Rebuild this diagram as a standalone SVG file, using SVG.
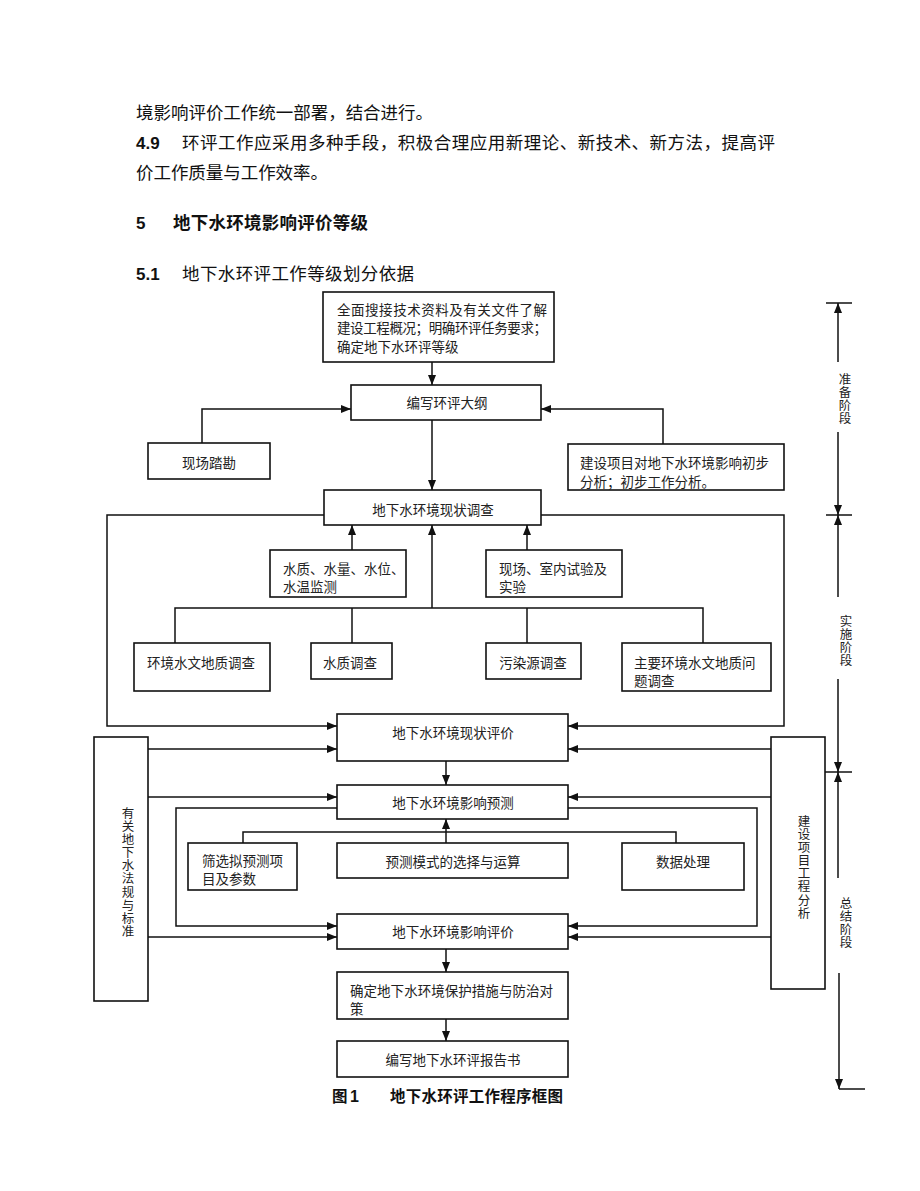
<svg xmlns="http://www.w3.org/2000/svg" width="920" height="1191" viewBox="0 0 920 1191">
<style>
.p{font-family:"Noto Sans CJK SC","Liberation Serif",sans-serif;font-size:17.5px;fill:#111}
.n{font-family:"Liberation Sans",sans-serif;font-size:17px;font-weight:bold;fill:#111}
.h{font-family:"Noto Sans CJK SC",sans-serif;font-size:17.5px;font-weight:bold;fill:#111}
.t{font-family:"Noto Sans CJK SC",sans-serif;font-size:13.5px;fill:#222}
.c{text-anchor:middle}
.v{font-family:"Noto Sans CJK SC",sans-serif;font-size:12.5px;fill:#222;writing-mode:vertical-rl;letter-spacing:0.6px}
.box{fill:#fff;stroke:#111;stroke-width:1.6}
.ln{fill:none;stroke:#111;stroke-width:1.5}
.cap{font-family:"Noto Sans CJK SC",sans-serif;font-size:15.5px;font-weight:bold;fill:#111}
</style>
<defs>
<marker id="ah" markerWidth="10" markerHeight="8" refX="10" refY="4" orient="auto" markerUnits="userSpaceOnUse"><path d="M0,0 L10,4 L0,8 z" fill="#111"/></marker>
</defs>
<rect width="920" height="1191" fill="#fff"/>

<g id="paragraphs">
<text class="p" x="136" y="118.5" textLength="297" lengthAdjust="spacing">境影响评价工作统一部署，结合进行。</text>
<text class="n" x="136" y="148.5">4.9</text>
<text class="p" x="182" y="148.5" textLength="593" lengthAdjust="spacing">环评工作应采用多种手段，积极合理应用新理论、新技术、新方法，提高评</text>
<text class="p" x="136" y="178.5" textLength="192" lengthAdjust="spacing">价工作质量与工作效率。</text>
<text class="n" x="136" y="228.5">5</text>
<text class="h" x="173" y="228.5" textLength="195" lengthAdjust="spacing">地下水环境影响评价等级</text>
<text class="n" x="136" y="279.5">5.1</text>
<text class="p" x="182" y="279.5" textLength="232" lengthAdjust="spacing">地下水环评工作等级划分依据</text>
</g>

<g id="connectors">
<path class="ln" d="M432,362 V385" marker-end="url(#ah)"/>
<path class="ln" d="M202,443 V409 H351" marker-end="url(#ah)"/>
<path class="ln" d="M663,444 V409 H541" marker-end="url(#ah)"/>
<path class="ln" d="M432,420 V490" marker-end="url(#ah)"/>
<path class="ln" d="M352,550 V525" marker-end="url(#ah)"/>
<path class="ln" d="M432,608 V525" marker-end="url(#ah)"/>
<path class="ln" d="M527,550 V525" marker-end="url(#ah)"/>
<path class="ln" d="M175,643 V608 H703 V643"/>
<path class="ln" d="M352,608 V643"/>
<path class="ln" d="M527,608 V643"/>
<path class="ln" d="M324,515 H107 V726 H337" marker-end="url(#ah)"/>
<path class="ln" d="M541,515 H784 V726 H568" marker-end="url(#ah)"/>
<path class="ln" d="M148,749 H337" marker-end="url(#ah)"/>
<path class="ln" d="M771,749 H568" marker-end="url(#ah)"/>
<path class="ln" d="M446,761 V785" marker-end="url(#ah)"/>
<path class="ln" d="M148,797 H337" marker-end="url(#ah)"/>
<path class="ln" d="M771,797 H568" marker-end="url(#ah)"/>
<path class="ln" d="M337,808 H176 V926 H337" marker-end="url(#ah)"/>
<path class="ln" d="M568,808 H757 V926 H568" marker-end="url(#ah)"/>
<path class="ln" d="M243,843 V832 H676 V843"/>
<path class="ln" d="M446,843 V819" marker-end="url(#ah)"/>
<path class="ln" d="M148,937 H337" marker-end="url(#ah)"/>
<path class="ln" d="M771,937 H568" marker-end="url(#ah)"/>
<path class="ln" d="M446,949 V972" marker-end="url(#ah)"/>
<path class="ln" d="M446,1019 V1041" marker-end="url(#ah)"/>
</g>

<g id="stages">
<path class="ln" d="M826,303 H852"/>
<path class="ln" d="M838,362 V303" marker-end="url(#ah)"/>
<path class="ln" d="M838,432 V515" marker-end="url(#ah)"/>
<path class="ln" d="M826,515 H852"/>
<path class="ln" d="M838,597 V515" marker-end="url(#ah)"/>
<path class="ln" d="M838,679 V772" marker-end="url(#ah)"/>
<path class="ln" d="M825,772 H852"/>
<path class="ln" d="M838,878 V772" marker-end="url(#ah)"/>
<path class="ln" d="M839,973 V1089" marker-end="url(#ah)"/>
<path class="ln" d="M839,1089 H865"/>
<text class="v" x="845" y="373">准备阶段</text>
<text class="v" x="846" y="615">实施阶段</text>
<text class="v" x="846" y="897">总结阶段</text>
</g>

<g id="n1"><rect class="box" x="323" y="292" width="231" height="70"/>
<text class="t"><tspan x="337" y="315" textLength="210" lengthAdjust="spacing">全面搜接技术资料及有关文件了解</tspan><tspan x="337" y="333" textLength="210" lengthAdjust="spacing">建设工程概况；明确环评任务要求；</tspan><tspan x="337" y="352">确定地下水环评等级</tspan></text></g>

<g id="n2"><rect class="box" x="351" y="385" width="190" height="35"/>
<text class="t c" x="447" y="408">编写环评大纲</text></g>

<g id="n3"><rect class="box" x="148" y="443" width="122" height="36"/>
<text class="t c" x="209" y="468">现场踏勘</text></g>

<g id="n4"><rect class="box" x="568" y="444" width="216" height="46"/>
<text class="t"><tspan x="580" y="468" textLength="189" lengthAdjust="spacing">建设项目对地下水环境影响初步</tspan><tspan x="580" y="487">分析；初步工作分析。</tspan></text></g>

<g id="n5"><rect class="box" x="324" y="490" width="217" height="35"/>
<text class="t c" x="433" y="515">地下水环境现状调查</text></g>

<g id="n6"><rect class="box" x="270" y="550" width="136" height="47"/>
<text class="t"><tspan x="283" y="574">水质、水量、水位、</tspan><tspan x="283" y="592">水温监测</tspan></text></g>

<g id="n7"><rect class="box" x="486" y="550" width="136" height="47"/>
<text class="t"><tspan x="499" y="574">现场、室内试验及</tspan><tspan x="499" y="592">实验</tspan></text></g>

<g id="n8"><rect class="box" x="134" y="643" width="136" height="48"/>
<text class="t c" x="201" y="668">环境水文地质调查</text></g>

<g id="n9"><rect class="box" x="311" y="643" width="81" height="36"/>
<text class="t c" x="350" y="668">水质调查</text></g>

<g id="n10"><rect class="box" x="486" y="643" width="95" height="36"/>
<text class="t c" x="533" y="668">污染源调查</text></g>

<g id="n11"><rect class="box" x="622" y="643" width="149" height="48"/>
<text class="t"><tspan x="634" y="668">主要环境水文地质问</tspan><tspan x="634" y="686">题调查</tspan></text></g>

<g id="n12"><rect class="box" x="337" y="714" width="231" height="47"/>
<text class="t c" x="453" y="738">地下水环境现状评价</text></g>

<g id="n13"><rect class="box" x="337" y="785" width="231" height="34"/>
<text class="t c" x="453" y="808">地下水环境影响预测</text></g>

<g id="n14"><rect class="box" x="188" y="843" width="109" height="47"/>
<text class="t"><tspan x="202" y="866">筛选拟预测项</tspan><tspan x="202" y="884">目及参数</tspan></text></g>

<g id="n15"><rect class="box" x="337" y="843" width="231" height="35"/>
<text class="t c" x="453" y="867">预测模式的选择与运算</text></g>

<g id="n16"><rect class="box" x="622" y="843" width="122" height="47"/>
<text class="t c" x="683" y="867">数据处理</text></g>

<g id="n17"><rect class="box" x="337" y="914" width="231" height="35"/>
<text class="t c" x="453" y="937">地下水环境影响评价</text></g>

<g id="n18"><rect class="box" x="337" y="972" width="231" height="47"/>
<text class="t"><tspan x="350" y="996" textLength="203" lengthAdjust="spacing">确定地下水环境保护措施与防治对</tspan><tspan x="350" y="1014">策</tspan></text></g>

<g id="n19"><rect class="box" x="337" y="1041" width="231" height="36"/>
<text class="t c" x="453" y="1065">编写地下水环评报告书</text></g>

<g id="n20"><rect class="box" x="94" y="737" width="54" height="264"/>
<text class="v" x="128" y="807">有关地下水法规与标准</text></g>

<g id="n21"><rect class="box" x="771" y="737" width="54" height="252"/>
<text class="v" x="804" y="815">建设项目工程分析</text></g>

<g id="caption">
<text class="cap" x="332" y="1102">图</text>
<text class="n" x="350" y="1102" style="font-size:16px">1</text>
<text class="cap" x="390" y="1102" textLength="173" lengthAdjust="spacing">地下水环评工作程序框图</text>
</g>
</svg>
